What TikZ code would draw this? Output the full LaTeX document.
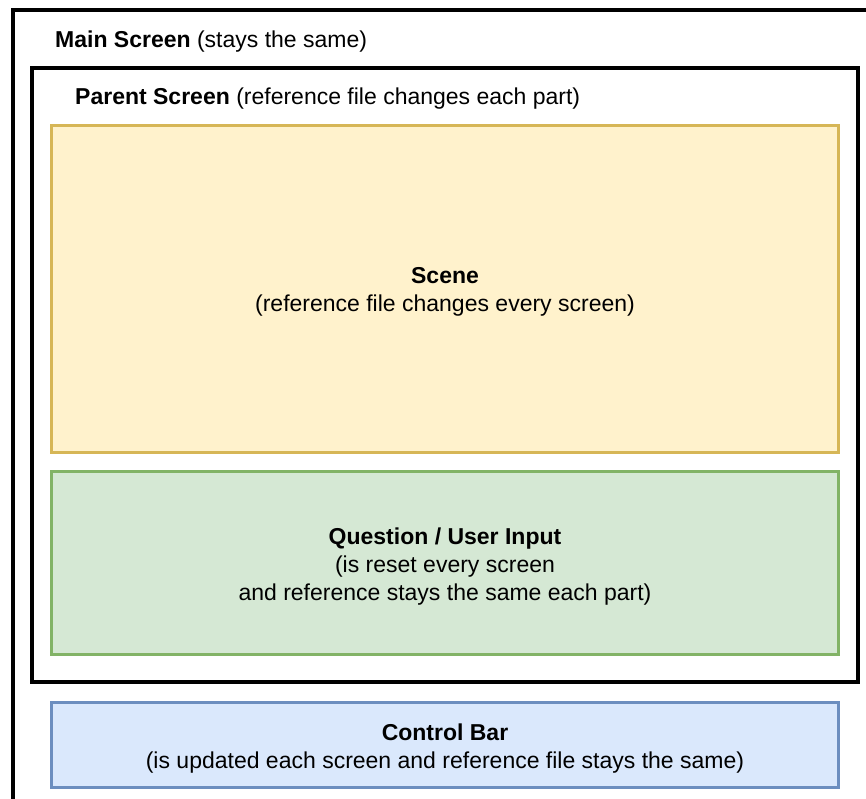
\documentclass[tikz,border=0pt]{standalone}
\usepackage{fontspec}
\setmainfont{Liberation Sans}
\usetikzlibrary{positioning}
\definecolor{sceneFill}{HTML}{FFF2CC}
\definecolor{sceneLine}{HTML}{D6B656}
\definecolor{questFill}{HTML}{D5E8D4}
\definecolor{questLine}{HTML}{82B366}
\definecolor{ctrlFill}{HTML}{DAE8FC}
\definecolor{ctrlLine}{HTML}{6C8EBF}
\tikzset{
  big font/.style={font=\fontsize{23}{28}\selectfont},
  screen label/.style={big font,anchor=west,inner sep=0},
  part text/.style={big font,align=center,inner sep=0},
  frame/.style={draw=black,line width=3.5pt,inner sep=0,outer sep=0},
  part/.style={line width=3pt,inner sep=0,outer sep=0,minimum width=787pt},
  scene part/.style={part,draw=sceneLine,fill=sceneFill},
  question part/.style={part,draw=questLine,fill=questFill},
  control part/.style={part,draw=ctrlLine,fill=ctrlFill}
}

\begin{document}
\begin{tikzpicture}[x=1pt,y=-1pt]
    \useasboundingbox (0,0) rectangle (866,798);
    \clip (0,0) rectangle (866,798);
    % Screens
    \node[frame,anchor=north west,minimum width=900pt,minimum height=850pt] (main) at (13,10) {};
    \node[frame,minimum width=826pt,minimum height=614pt] (parent) at (445,375) {};
    % Parts of the screen
    \node[scene part,minimum height=327pt] (scene) at (445,288.5) {};
    \node[question part,minimum height=183pt] (question) at (445,562.5) {};
    \node[control part,minimum height=85pt] (control) at (445,744.5) {};
    \node[part text] (scenetext) at ([yshift=-3pt]scene.center)
      {\textbf{Scene}\\(reference file changes every screen)};
    \node[part text] (questiontext) at ([yshift=-4pt]question.center)
      {\textbf{Question / User Input}\\(is reset every screen\\and reference stays the same each part)};
    \node[part text] (controltext) at ([yshift=-4pt]control.center)
      {\textbf{Control Bar}\\(is updated each screen and reference file stays the same)};
    % Labels
    \node[screen label] (mainlabel) at (55,42) {\textbf{Main Screen} (stays the same)};
    \node[screen label] (parentlabel) at (75,99) {\textbf{Parent Screen} (reference file changes each part)};
\end{tikzpicture}
\end{document}
